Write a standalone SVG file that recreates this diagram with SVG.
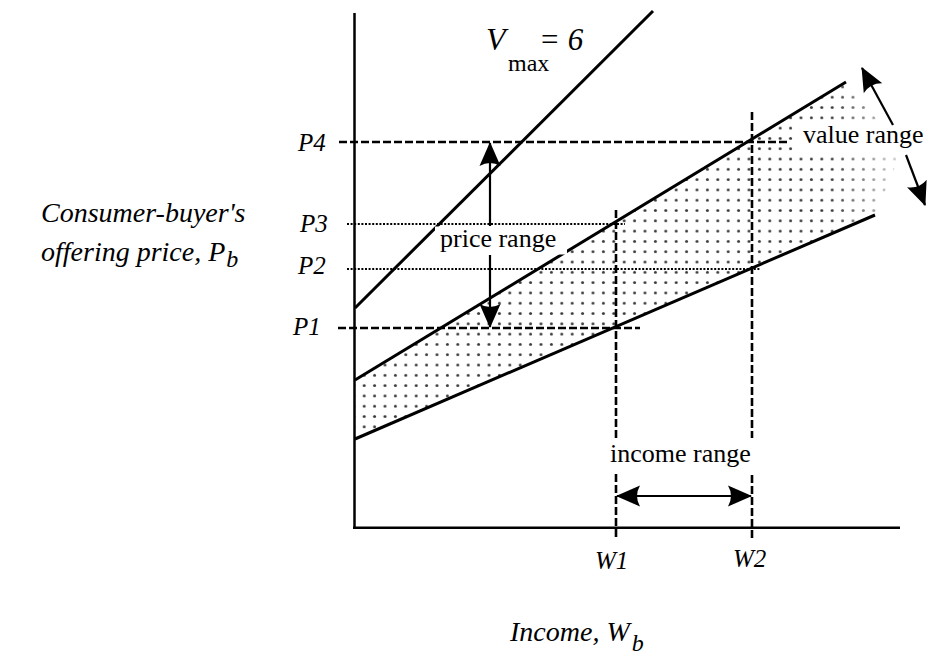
<svg xmlns="http://www.w3.org/2000/svg" width="927" height="660" viewBox="0 0 927 660">
<style>
text{font-family:'Liberation Serif','Times New Roman',Tinos,Times,'Nimbus Roman','DejaVu Serif',serif;fill:#000}
.it{font-style:italic}
.ax{stroke:#000;stroke-width:2.5;fill:none}
.ln{stroke:#000;stroke-width:3;fill:none;stroke-linecap:butt}
.dash{stroke:#000;stroke-width:2.6;stroke-dasharray:8 3;fill:none}
.dot{stroke:#000;stroke-width:2;stroke-dasharray:2 1.6;fill:none}
.arr{stroke:#000;stroke-width:2.2;fill:none}
</style>
<defs>
<pattern id="stip" patternUnits="userSpaceOnUse" x="379.8" y="359.85" width="10.4" height="10.3">
<circle cx="5.2" cy="5.15" r="1.5" fill="#3a3a3a"/>
</pattern>
<linearGradient id="fade" gradientUnits="userSpaceOnUse" x1="830" y1="0" x2="905" y2="0">
<stop offset="0" stop-color="#fff"/>
<stop offset="1" stop-color="#fff" stop-opacity="0.15"/>
</linearGradient>
<mask id="m" maskUnits="userSpaceOnUse" x="0" y="0" width="927" height="660">
<rect x="0" y="0" width="927" height="660" fill="url(#fade)"/>
</mask>
<marker id="ah" markerUnits="userSpaceOnUse" markerWidth="24" markerHeight="22" refX="23" refY="10.5" orient="auto-start-reverse" viewBox="0 0 24 21">
<path d="M0,0 Q6,10.5 0,21 L24,10.5 Z" fill="#000"/>
</marker>
</defs>

<g id="shade">
<polygon points="355,380 846,82 902,150 875,215 355,439" fill="url(#stip)" mask="url(#m)"/>
</g>

<g id="axes">
<line class="ax" x1="354.5" y1="13" x2="354.5" y2="529"/>
<line class="ax" x1="353" y1="527.7" x2="900" y2="527.7"/>
</g>

<g id="guides">
<line class="dash" x1="339" y1="142" x2="787" y2="142"/>
<line class="dot" x1="347" y1="224" x2="625" y2="224"/>
<line class="dot" x1="347" y1="269" x2="760" y2="269"/>
<line class="dash" x1="338" y1="328" x2="640" y2="328"/>
<line class="dash" x1="616" y1="210" x2="616" y2="540"/>
<line class="dash" x1="752" y1="112" x2="752" y2="540"/>
</g>

<g id="curves">
<line id="vmax" class="ln" x1="355" y1="308" x2="653" y2="11"/>
<line id="upper" class="ln" x1="355" y1="380" x2="846" y2="82"/>
<line id="lower" class="ln" x1="355" y1="439" x2="875" y2="215"/>
</g>

<g id="label-boxes" fill="#fff">
<rect x="435" y="226.5" width="132" height="28"/>
<rect x="604" y="438" width="158" height="36"/>
<rect x="799" y="124" width="128" height="30"/>
</g>

<g id="connectors">
<line class="arr" x1="490" y1="143" x2="490" y2="226" marker-start="url(#ah)"/>
<line class="arr" x1="490" y1="255" x2="490" y2="327" marker-end="url(#ah)"/>
<line class="arr" x1="617" y1="496" x2="751" y2="496" marker-start="url(#ah)" marker-end="url(#ah)"/>
<line class="arr" x1="862" y1="68" x2="893" y2="125" marker-start="url(#ah)"/>
<line class="arr" x1="906" y1="155" x2="925" y2="205" marker-end="url(#ah)"/>
</g>

<g id="labels">
<text class="it" font-size="25" x="298" y="151">P4</text>
<text class="it" font-size="25" x="300" y="232">P3</text>
<text class="it" font-size="25" x="298" y="274">P2</text>
<text class="it" font-size="25" x="293" y="335">P1</text>
<text class="it" font-size="25" x="595" y="569">W1</text>
<text class="it" font-size="25" x="733" y="567">W2</text>
<text font-size="26" x="440" y="247">price range</text>
<text font-size="26" x="610" y="462">income range</text>
<text font-size="26" x="803" y="143">value range</text>
<text class="it" font-size="32" x="486" y="50">V</text>
<text font-size="24" x="508" y="71">max</text>
<text class="it" font-size="31" x="539" y="50">= 6</text>
<text class="it" font-size="28" x="41" y="222">Consumer-buyer's</text>
<text class="it" font-size="28" x="41" y="261">offering price, P<tspan font-size="24" dx="1" dy="6">b</tspan></text>
<text class="it" font-size="28" x="510" y="641">Income, W<tspan font-size="24" dx="2" dy="10">b</tspan></text>
</g>
</svg>
